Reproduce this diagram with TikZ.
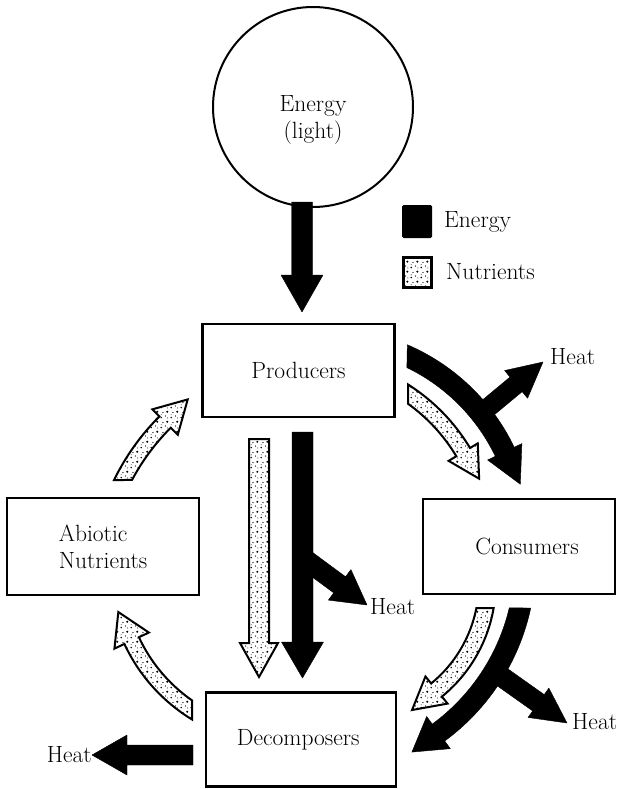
\documentclass[tikz,border=0pt]{standalone}
\usepackage{fontspec}
\usetikzlibrary{calc,patterns}
\pgfdeclarepatternformonly{stipple}{\pgfqpoint{0pt}{0pt}}{\pgfqpoint{10pt}{10pt}}{\pgfqpoint{10pt}{10pt}}{%
  \pgfpathcircle{\pgfqpoint{1.3pt}{1.6pt}}{0.9pt}%
  \pgfpathcircle{\pgfqpoint{6pt}{3.2pt}}{0.7pt}%
  \pgfpathcircle{\pgfqpoint{3.2pt}{7pt}}{0.7pt}%
  \pgfpathcircle{\pgfqpoint{7.9pt}{7.9pt}}{1.2pt}%
  \pgfpathcircle{\pgfqpoint{8.4pt}{1.1pt}}{0.55pt}%
  \pgfpathcircle{\pgfqpoint{1.3pt}{4.6pt}}{0.5pt}%
  \pgfusepath{fill}}
% straight fat arrow: [style]{start}{tip}{half width}{head half width}{head length}
\newcommand{\fatarrow}[6][]{%
  \coordinate (fa-a) at #2;
  \coordinate (fa-b) at #3;
  \coordinate (fa-h) at ($(fa-b)!#6pt!(fa-a)$);
  \path[#1] ($(fa-a)!#4pt!90:(fa-b)$) -- ($(fa-h)!#4pt!90:(fa-b)$) -- ($(fa-h)!#5pt!90:(fa-b)$)
    -- (fa-b) -- ($(fa-h)!#5pt!-90:(fa-b)$) -- ($(fa-h)!#4pt!-90:(fa-b)$) -- ($(fa-a)!#4pt!-90:(fa-b)$) -- cycle;}
% curved fat arrow: [style]{centre}{R}{start angle, R+hw side}{start angle, R-hw side}{end angle}{hw}{head hw}{head length}
\newcommand{\curvarrow}[9][]{%
  \coordinate (ca-c) at #2;
  \path[#1] ($(ca-c)+({#4}:{#3+#7})$) arc[start angle={#4}, end angle={#6}, radius={#3+#7}]
    -- ($(ca-c)+({#6}:{#3+#8})$)
    -- ($(ca-c)+({#6}:{#3})+({#6+90*(#6-#4)/abs(#6-#4)}:{#9})$)
    -- ($(ca-c)+({#6}:{#3-#8})$)
    -- ($(ca-c)+({#6}:{#3-#7})$) arc[start angle={#6}, end angle={#5}, radius={#3-#7}]
    -- cycle;}
\tikzset{
  lab/.style={font=\fontsize{23.5}{27}\selectfont, inner sep=0pt},
  box/.style={draw, line width=2.3pt, lab, align=center},
  blk/.style={fill=black, draw=black, line width=0.4pt, line join=round},
  dotarrow/.style={draw=black, line width=2pt, line join=miter, preaction={fill=white}, pattern=stipple},
}
\begin{document}
\begin{tikzpicture}[x=1pt, y=-1pt]
\useasboundingbox (0,0) rectangle (622,789);
\fill[white] (0,0) rectangle (622,789);

% nodes
\node[draw, circle, line width=2pt, minimum size=200pt, inner sep=0pt] (light) at (313,107) {};
\node[lab, align=center] (lighttext) at (313,120) {Energy\\(light)};
\node[box, minimum width=192pt, minimum height=93pt] (prod) at (298.5,370.5) {Producers};
\node[box, minimum width=192pt, minimum height=97pt, align=left] (abio) at (103,546.5) {Abiotic\\Nutrients};
\node[box, minimum width=192pt, minimum height=95pt] (cons) at (519,546.5) {\hspace*{16pt}Consumers};
\node[box, minimum width=190pt, minimum height=94pt] (deco) at (301.3,739.5) {Decomposers\hspace*{6pt}};

% legend
\node[fill=black, rounded corners=1.5pt, minimum width=30pt, minimum height=33pt, inner sep=0pt] (legE) at (417,221.5) {};
\node[lab, anchor=west] (legEt) at (444,222) {Energy};
\node[dotarrow, line width=2.5pt, minimum width=28pt, minimum height=30pt, inner sep=0pt] (legN) at (417.5,272.5) {};
\node[lab, anchor=west] (legNt) at (446,272) {Nutrients};

% heat labels
\node[lab, anchor=west] (h1) at (550,357) {Heat};
\node[lab, anchor=west] (h2) at (370,607) {Heat};
\node[lab, anchor=west] (h3) at (572,722) {Heat};
\node[lab, anchor=east] (h4) at (92,755) {Heat};

% light -> producers
\fatarrow[blk]{(302,202)}{(302,312)}{10.5}{21}{37}

% producers -> decomposers
\fatarrow[dotarrow]{(259,439)}{(259,677)}{10}{19}{34}
\fatarrow[blk]{(306,560)}{(367,605)}{10}{19}{34}
\fatarrow[blk]{(302.5,432)}{(302.5,678)}{10.5}{21}{36}

% producers -> consumers
\fatarrow[blk]{(478,416)}{(543,362)}{9.5}{18}{35}
\curvarrow[blk]{(324.4,538.2)}{200}{-66.8}{-64.2}{-25.6}{10.5}{19}{36}
\curvarrow[dotarrow]{(304.6,547.4)}{185}{-57.6}{-54.25}{-31}{8}{17}{31}

% consumers -> decomposers
\fatarrow[blk]{(495,672)}{(567,723)}{10}{18}{35}
\curvarrow[blk]{(312.7,561.3)}{212.5}{12.1}{13.3}{53.7}{10.5}{20}{33}
\curvarrow[dotarrow]{(349.3,583.1)}{138}{9.79}{11.09}{50.8}{8.5}{17.5}{31.6}

% decomposers -> abiotic
\curvarrow[dotarrow]{(283,570)}{167}{-238.7}{-235.1}{-205}{8}{19}{31.5}

% abiotic -> producers
\curvarrow[dotarrow]{(327,584)}{229}{-154.0}{-151.9}{-135}{8}{18}{32}

% heat from decomposers
\fatarrow[blk]{(193,755)}{(92,755)}{10}{20}{35}
\end{tikzpicture}
\end{document}
